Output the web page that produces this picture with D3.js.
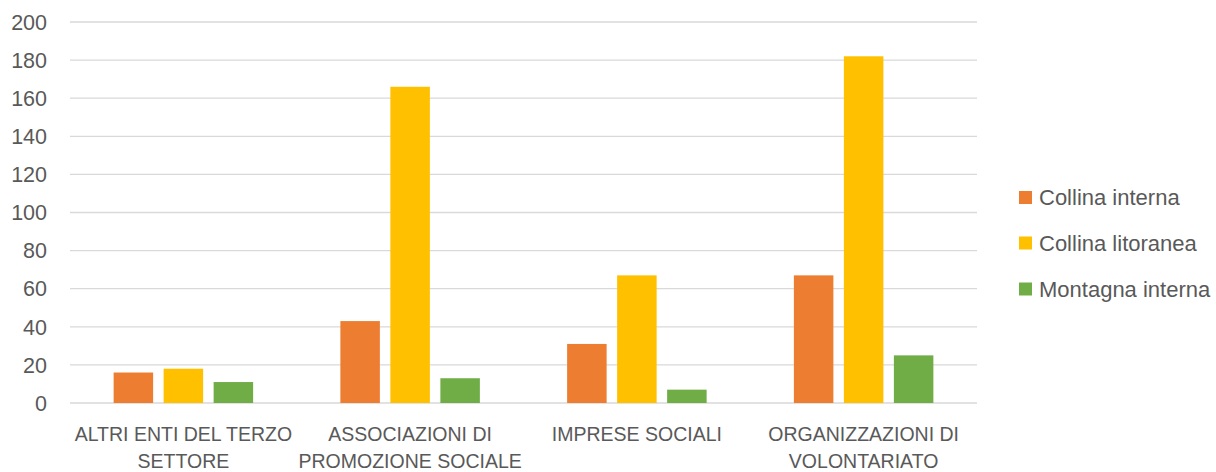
<!DOCTYPE html>
<html>
<head>
<meta charset="utf-8">
<script src="https://cdn.jsdelivr.net/npm/d3@7"></script>
<style>
html,body{margin:0;padding:0;background:#fff;}
text{font-family:"Liberation Sans",Arial,sans-serif;fill:#595959;}
</style>
</head>
<body>
<svg id="chart" width="1216" height="472"></svg>
<script>
const categories = ["ALTRI ENTI DEL TERZO\nSETTORE", "ASSOCIAZIONI DI\nPROMOZIONE SOCIALE", "IMPRESE SOCIALI", "ORGANIZZAZIONI DI\nVOLONTARIATO"];
const seriesNames = ["Collina interna", "Collina litoranea", "Montagna interna"];
const collinaInterna = [16, 43, 31, 67];
const collinaLitoranea = [18, 166, 67, 182];
const montagnaInterna = [11, 13, 7, 25];
const yTicks = [0, 20, 40, 60, 80, 100, 120, 140, 160, 180, 200];
const colors = ["#ED7D31", "#FFC000", "#70AD47"];

(function () {
const seriesValues = [collinaInterna, collinaLitoranea, montagnaInterna];
const svg = d3.select("#chart");
const mLeft = 70, mRight = 977, mTop = 22, mBottom = 403;

const x0 = d3.scaleBand().domain(categories).range([mLeft, mRight]).paddingInner(0).paddingOuter(0);
const barW = 39.5, gap = 10.5;
const y = d3.scaleLinear().domain([0, 200]).range([mBottom, mTop]);

// gridlines
svg.append("g").selectAll("line").data(yTicks).join("line")
  .attr("x1", mLeft).attr("x2", mRight)
  .attr("y1", d => y(d)).attr("y2", d => y(d))
  .attr("stroke", "#d9d9d9").attr("stroke-width", 1.3);

// y tick labels
svg.append("g").selectAll("text").data(yTicks).join("text")
  .attr("x", 47).attr("y", d => y(d)).attr("dy", "0.36em")
  .attr("text-anchor", "end").style("font-size", "21.5px").text(d => d);

// bars
const groupW = 3 * barW + 2 * gap;
const x1 = d3.scaleBand().domain(seriesNames).range([0, groupW]).paddingInner(gap / (barW + gap)).paddingOuter(0);
const groups = svg.append("g").selectAll("g").data(categories).join("g")
  .attr("transform", d => `translate(${x0(d) + x0.bandwidth() / 2 - groupW / 2},0)`);
groups.selectAll("rect").data((d, i) => seriesNames.map((s, j) => ({s, v: seriesValues[j][i], j})))
  .join("rect")
  .attr("x", d => x1(d.s)).attr("width", x1.bandwidth())
  .attr("y", d => y(d.v)).attr("height", d => y(0) - y(d.v))
  .attr("fill", d => colors[d.j]);

// category labels
const catG = svg.append("g").selectAll("text").data(categories).join("text")
  .attr("text-anchor", "middle").style("font-size", "19.5px")
  .attr("transform", d => `translate(${x0(d) + x0.bandwidth() / 2},441)`);
catG.selectAll("tspan").data(d => d.split("\n")).join("tspan")
  .attr("x", 0).attr("y", (d, i) => i * 27).text(d => d);

// legend
const legendY = [197.5, 243, 289];
const leg = svg.append("g").selectAll("g").data(seriesNames).join("g")
  .attr("transform", (d, i) => `translate(1019,${legendY[i]})`);
leg.append("rect").attr("x", 0).attr("y", -6.5).attr("width", 13).attr("height", 13)
  .attr("fill", (d, i) => colors[i]);
leg.append("text").attr("x", 20).attr("y", 0).attr("dy", "0.36em")
  .style("font-size", "22px").text(d => d);
})();
</script>
</body>
</html>
